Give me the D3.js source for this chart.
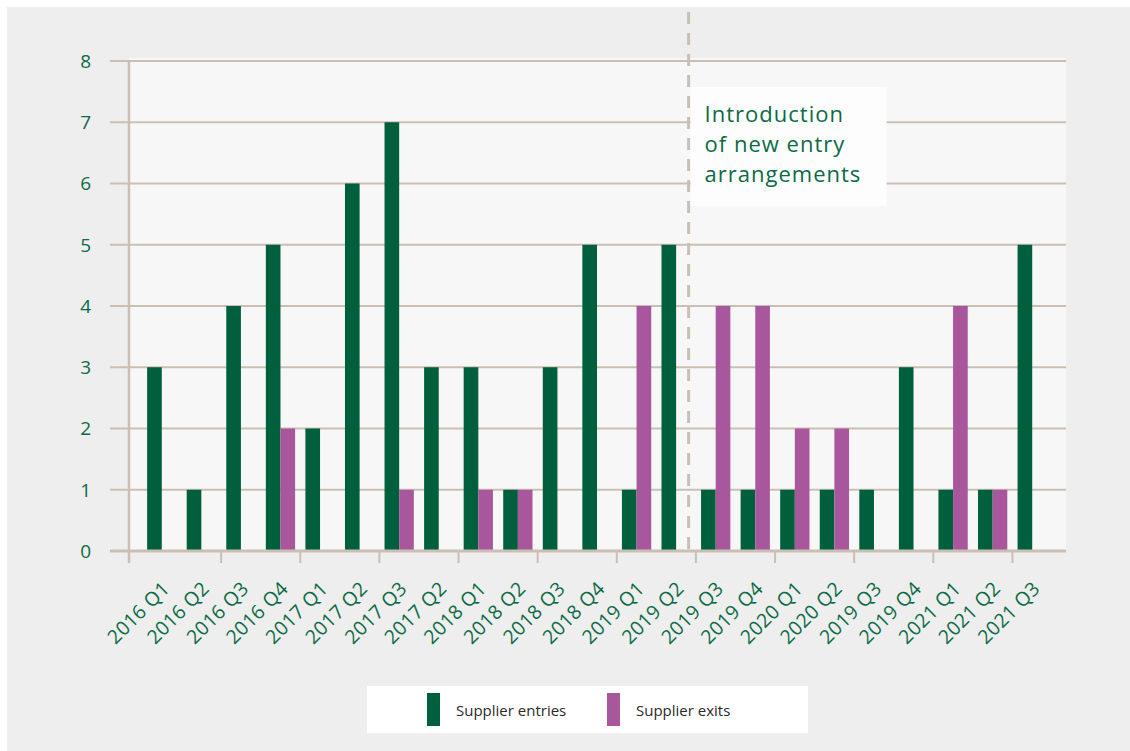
<!DOCTYPE html>
<html>
<head>
<meta charset="utf-8">
<script src="https://cdn.jsdelivr.net/npm/d3@7"></script>
<style>
  html, body { margin: 0; padding: 0; background: #ffffff; }
  svg { display: block; }
</style>
</head>
<body>
<svg id="chart" width="1130" height="751"></svg>
<script>
// ---- data ----
const categories = ["2016 Q1","2016 Q2","2016 Q3","2016 Q4","2017 Q1","2017 Q2","2017 Q3","2017 Q2",
  "2018 Q1","2018 Q2","2018 Q3","2018 Q4","2019 Q1","2019 Q2","2019 Q3","2019 Q4",
  "2020 Q1","2020 Q2","2019 Q3","2019 Q4","2021 Q1","2021 Q2","2021 Q3"];
const supplierEntries = [3,1,4,5,2,6,7,3,3,1,3,5,1,5,1,1,1,1,1,3,1,1,5];
const supplierExits   = [0,0,0,2,0,0,1,0,1,1,0,0,4,0,4,4,2,2,0,0,4,1,0];
const yTicks = [0,1,2,3,4,5,6,7,8];
const seriesNames = ["Supplier entries","Supplier exits"];
const annotationLines = ["Introduction","of new entry","arrangements"];
const markerIndex = 14; // new entry arrangements start before this category

// ---- styles ----
const GREEN = "#005f3c", PURPLE = "#a9579d", GRID = "#cbbfb3", TXT = "#0b6b45";
const FONT = "'Open Sans', 'Noto Sans', sans-serif";

const svg = d3.select("#chart");
svg.append("rect").attr("x",7).attr("y",7).attr("width",1123).attr("height",744).attr("fill","#eeeeee");

const plotL = 129, plotR = 1066, plotT = 61, plotB = 551;
svg.append("rect").attr("x",plotL).attr("y",plotT-3).attr("width",plotR-plotL).attr("height",plotB-plotT+3).attr("fill","#f7f7f7");

const idx = categories.map((d,i)=>i);
const x = d3.scaleBand().domain(idx).range([142,1052]).padding(0);
const y = d3.scaleLinear().domain([0,8]).range([plotB,plotT]);
const step = x.bandwidth();
const bw = step*0.37;
const center = i => x(i) + step/2;

// gridlines
svg.append("g").selectAll("line").data(yTicks.filter(d=>d>0)).join("line")
  .attr("x1",110).attr("x2",plotR).attr("y1",d=>y(d)).attr("y2",d=>y(d))
  .attr("stroke",GRID).attr("stroke-width",1.8);

// y labels
svg.append("g").selectAll("text").data(yTicks).join("text")
  .attr("x",91).attr("y",d=>y(d)).attr("dy","0.36em").attr("text-anchor","end")
  .attr("fill",TXT).attr("font-family",FONT).attr("font-size",19).text(d=>d);

// bars
svg.append("g").selectAll("rect").data(idx).join("rect")
  .attr("x",i=>center(i)-bw).attr("width",bw)
  .attr("y",i=>y(supplierEntries[i])).attr("height",i=>y(0)-y(supplierEntries[i]))
  .attr("fill",GREEN);
svg.append("g").selectAll("rect").data(idx.filter(i=>supplierExits[i]>0)).join("rect")
  .attr("x",i=>center(i)).attr("width",bw)
  .attr("y",i=>y(supplierExits[i])).attr("height",i=>y(0)-y(supplierExits[i]))
  .attr("fill",PURPLE);

// axes lines
svg.append("line").attr("x1",plotL).attr("x2",plotL).attr("y1",plotT).attr("y2",563)
  .attr("stroke",GRID).attr("stroke-width",2.5);
svg.append("line").attr("x1",110).attr("x2",plotR).attr("y1",plotB).attr("y2",plotB)
  .attr("stroke",GRID).attr("stroke-width",3);
svg.append("g").selectAll("line").data(idx.filter(i=>i>0 && i%2===0)).join("line")
  .attr("x1",i=>x(i)).attr("x2",i=>x(i)).attr("y1",plotB).attr("y2",563)
  .attr("stroke",GRID).attr("stroke-width",2);

// x labels
svg.append("g").selectAll("text").data(idx).join("text")
  .attr("transform",i=>`translate(${center(i)+9},590) rotate(-45)`)
  .attr("text-anchor","end").attr("fill",TXT).attr("font-family",FONT).attr("font-size",19.5)
  .attr("letter-spacing",0.3)
  .text(i=>categories[i]);

// dashed marker
const mx = (center(markerIndex-1) + center(markerIndex)-bw)/2;
svg.append("line").attr("x1",mx).attr("x2",mx).attr("y1",12).attr("y2",plotB)
  .attr("stroke","#c9bfb4").attr("stroke-width",3).attr("stroke-dasharray","12,9");

// annotation box
const ann = svg.append("g").attr("transform",`translate(${mx+2},87)`);
ann.append("rect").attr("width",196).attr("height",119).attr("fill","#fdfdfd");
ann.selectAll("text").data(annotationLines).join("text")
  .attr("x",14).attr("y",(d,i)=>35+i*30).attr("fill",TXT)
  .attr("font-family",FONT).attr("font-size",22).attr("letter-spacing",1).text(d=>d);

// legend
const lg = svg.append("g").attr("transform","translate(367,686)");
lg.append("rect").attr("width",441).attr("height",47).attr("fill","#ffffff");
const items = lg.selectAll("g").data(seriesNames).join("g")
  .attr("transform",(d,i)=>`translate(${i===0?60:240},7)`);
items.append("rect").attr("width",13).attr("height",33).attr("fill",(d,i)=>i===0?GREEN:PURPLE);
items.append("text").attr("x",29).attr("y",23).attr("fill","#2a2a2a")
  .attr("font-family",FONT).attr("font-size",15).text(d=>d);
</script>
</body>
</html>
